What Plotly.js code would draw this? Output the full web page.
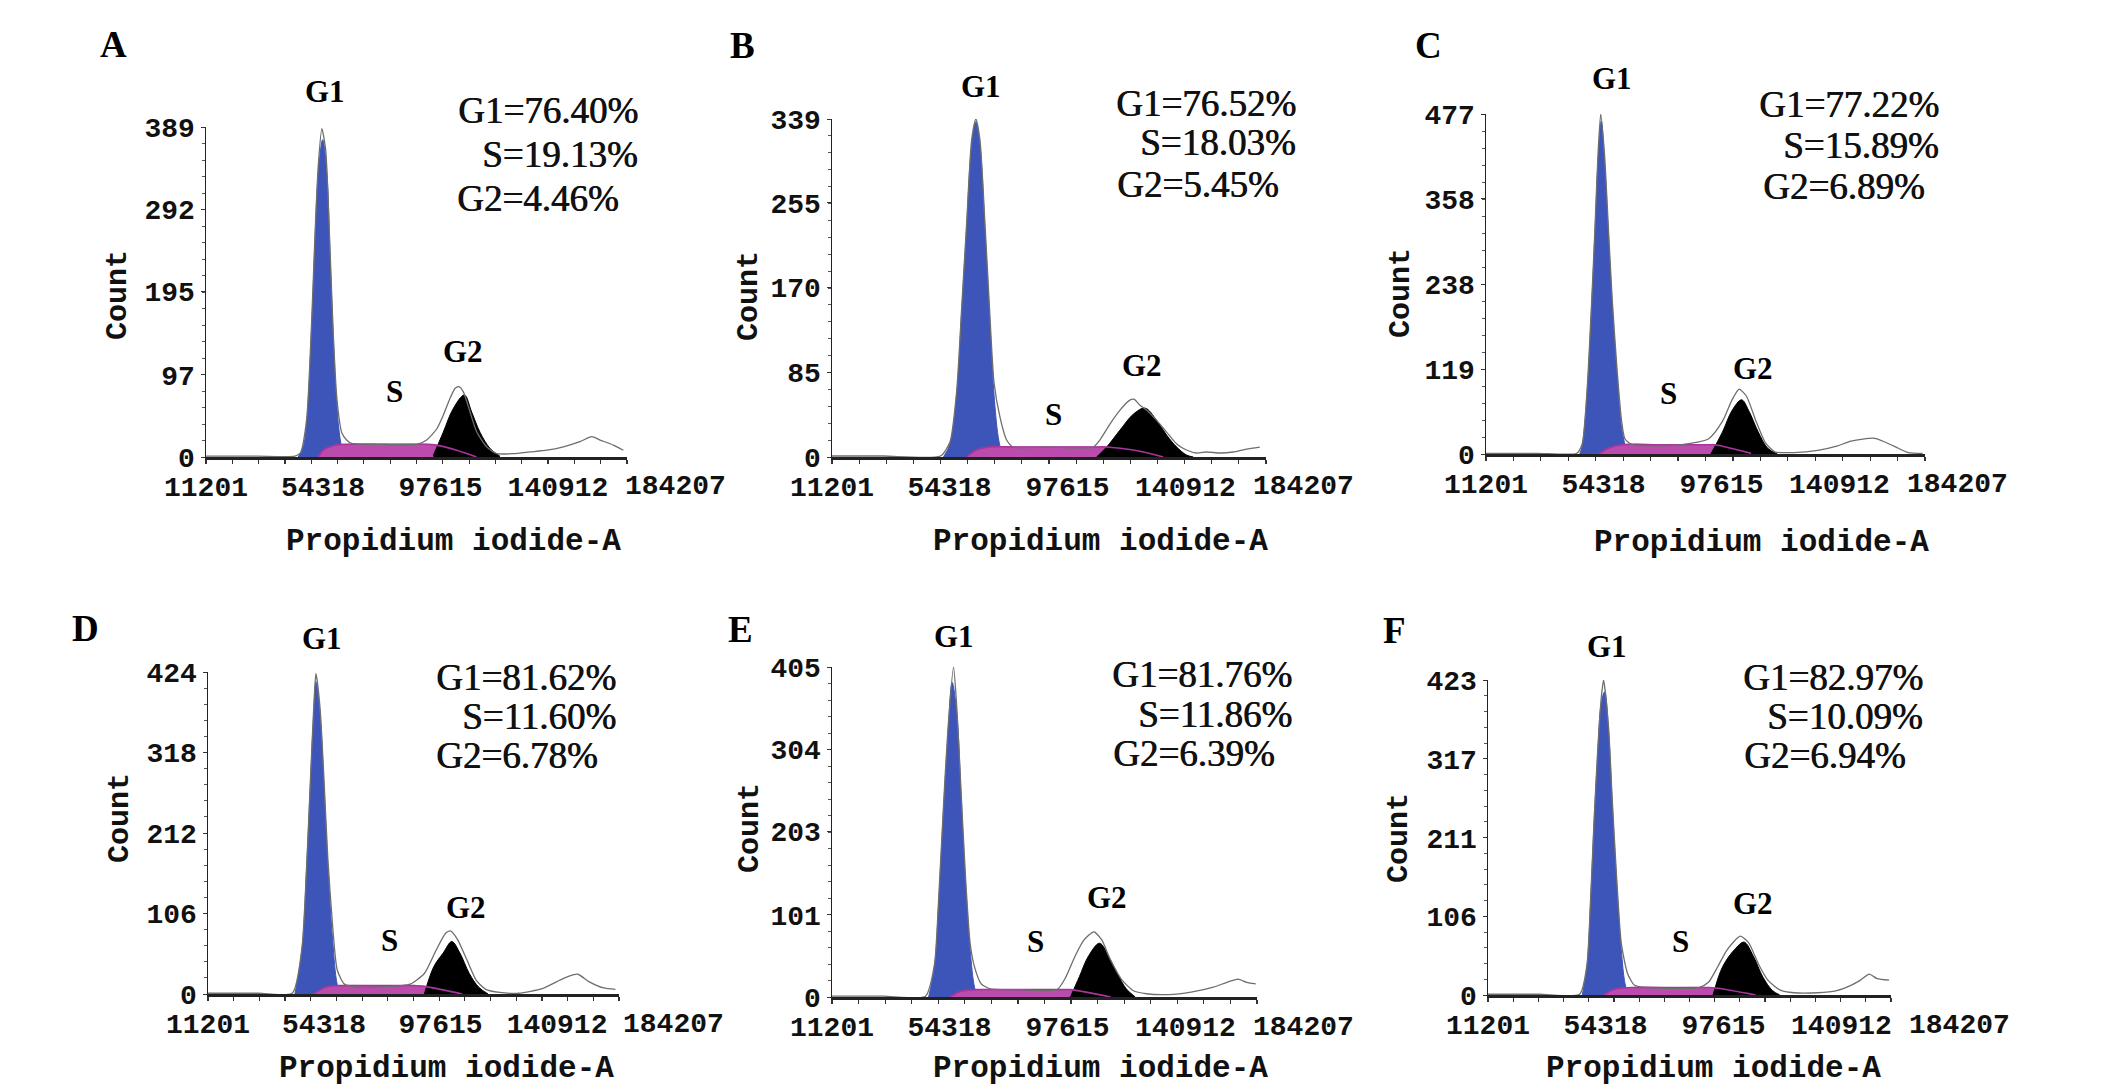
<!DOCTYPE html>
<html>
<head>
<meta charset="utf-8">
<script src="https://cdn.plot.ly/plotly-3.0.1.min.js"></script>
<style>
  body { margin: 0; background: #fff; }
  #chart { width: 2126px; height: 1092px; }
</style>
</head>
<body>
<div id="chart"></div>
<script>
// ---- data (PI-A channel vs count) ----
const panelNames = ['A', 'B', 'C', 'D', 'E', 'F'];
const g1Pct = ['76.40%', '76.52%', '77.22%', '81.62%', '81.76%', '82.97%'];
const sPct  = ['19.13%', '18.03%', '15.89%', '11.60%', '11.86%', '10.09%'];
const g2Pct = ['4.46%', '5.45%', '6.89%', '6.78%', '6.39%', '6.94%'];

const xTickVals = [11201, 54318, 97615, 140912, 184207];
const yTicksA = [0, 97, 195, 292, 389];
const yTicksB = [0, 85, 170, 255, 339];
const yTicksC = [0, 119, 238, 358, 477];
const yTicksD = [0, 106, 212, 318, 424];
const yTicksE = [0, 101, 203, 304, 405];
const yTicksF = [0, 106, 211, 317, 423];

// A
const aG1X = [45200, 47000, 48300, 50200, 51400, 52600, 54200, 55700, 56900, 58100, 59400, 60600, 61800];
const aG1Y = [0, 12, 41, 159, 258, 336, 374, 336, 238, 140, 61, 22, 2];
const aSX = [52600, 54400, 56900, 60000, 70000, 80000, 91300, 96200, 103600, 110900];
const aSY = [0, 8, 12, 14.5, 15, 15, 15, 14, 8, 0];
const aG2X = [95000, 98600, 102300, 106400, 109100, 112200, 115900, 119500];
const aG2Y = [2, 29, 57, 73, 53, 29, 10, 1];
const aTotX = [11201, 30000, 44000, 46000, 48300, 50200, 51400, 52600, 53900, 55300, 56900, 58100, 59400, 60600, 61200, 63000, 64900, 75000, 89000, 92500, 96200, 98600, 101100, 103000, 104400, 106000, 108500, 110900, 114600, 118300, 124400, 130600, 136800, 142900, 149000, 153300, 156400, 161300, 165000];
const aTotY = [1, 1, 1, 5, 45, 165, 265, 345, 387, 362, 245, 145, 70, 38, 29, 20, 16, 15, 15, 20, 33, 49, 69, 81, 83, 77, 53, 30, 12, 4, 4, 6, 8, 12, 18, 24, 20, 14, 8];

// B
const bG1X = [52100, 54500, 56950, 58800, 60600, 62450, 64000, 65500, 67300, 68900, 70650, 72200, 73500];
const bG1Y = [0, 13, 63, 147, 230, 313, 336, 313, 230, 147, 63, 20, 3];
const bSX = [60600, 64300, 69200, 80000, 95000, 107100, 112000, 121800, 132800];
const bSY = [0, 7, 10, 10, 10, 10, 10, 7, 0];
const bG2X = [108300, 112000, 116900, 121800, 126100, 130300, 134000, 137700, 141300, 143800];
const bG2Y = [0, 10, 27, 43, 49, 37, 22, 10, 2, 0];
const bTotX = [11201, 30000, 51000, 54500, 56950, 58800, 60600, 62450, 64000, 65500, 67300, 68900, 70650, 72850, 75300, 77700, 90000, 107100, 109500, 113200, 116900, 120500, 122000, 124200, 126700, 130300, 134000, 137700, 141300, 145000, 148700, 153600, 158400, 163300, 168200];
const bTotY = [1, 1, 1, 15, 66, 150, 234, 318, 339, 318, 236, 155, 75, 40, 17, 10, 10, 10, 17, 33, 47, 57, 58, 52, 47, 37, 25, 13, 7, 4, 5, 4, 5, 8, 10];

// C
const cG1X = [45600, 46500, 48300, 50000, 51200, 52300, 53500, 54700, 56100, 57500, 59300, 61000, 62800];
const cG1Y = [0, 11, 86, 211, 311, 411, 467, 411, 311, 211, 111, 36, 3];
const cSX = [52600, 56100, 61400, 75000, 92800, 95000, 98000, 108500];
const cSY = [0, 8, 13, 13, 13, 13, 11, 1];
const cG2X = [93700, 98000, 101500, 105000, 107600, 111100, 114600, 118100];
const cG2Y = [0, 31, 61, 76, 61, 31, 8, 0];
const cTotX = [11201, 30000, 44500, 46500, 48300, 50000, 51200, 52300, 53300, 54700, 56100, 57500, 59300, 61000, 62200, 64900, 80000, 92800, 98000, 101500, 104100, 106800, 110300, 113700, 117200, 124200, 132900, 139900, 145200, 153900, 160900, 166100, 171400];
const cTotY = [1, 1, 1, 14, 90, 215, 318, 420, 477, 420, 318, 218, 118, 45, 21, 13, 12, 21, 46, 76, 91, 81, 46, 16, 3, 2, 5, 11, 18, 22, 11, 2, 1];

// D
const dG1X = [43500, 46100, 47900, 49300, 50500, 51300, 52800, 54200, 55700, 57500, 59200, 60500];
const dG1Y = [0, 58, 170, 281, 371, 411, 371, 281, 170, 72, 13, 0];
const dSX = [50500, 54900, 60100, 75000, 88200, 91600, 105700];
const dSY = [0, 9, 11, 11, 11, 10, 0];
const dG2X = [91600, 95100, 98600, 101800, 104800, 108300, 111800, 115300];
const dG2Y = [0, 36, 54, 69, 54, 27, 9, 0];
const dTotX = [11201, 30000, 42500, 46100, 47900, 49300, 50500, 51300, 52800, 54200, 55700, 57500, 59200, 61900, 67100, 82900, 86400, 91600, 96000, 99500, 101300, 103900, 107400, 110900, 114400, 119600, 126700, 135400, 140700, 144200, 148600, 152900, 158200, 162600];
const dTotY = [1, 1, 1, 60, 172, 285, 378, 422, 378, 290, 180, 90, 32, 13, 9, 11, 13, 27, 58, 80, 83, 72, 45, 18, 6, 2, 1, 7, 16, 22, 26, 16, 8, 6];

// E
const eG1X = [46650, 48800, 50400, 52050, 53700, 55300, 57000, 58600, 60200, 61900, 63500, 64700];
const eG1Y = [0, 37, 120, 225, 320, 386, 349, 245, 141, 58, 12, 0];
const eSX = [54500, 58600, 64300, 80000, 95500, 98700, 113500];
const eSY = [0, 7, 9, 9, 9, 9, 0];
const eG2X = [98700, 102000, 105300, 109400, 112700, 115900, 119200, 122500];
const eG2Y = [0, 25, 50, 66, 50, 29, 10, 0];
const eTotX = [11201, 30000, 45500, 48800, 50400, 52050, 53700, 55800, 57000, 58600, 60200, 61900, 63500, 66000, 69300, 80000, 93800, 97100, 100400, 103700, 107300, 110200, 113500, 117600, 121700, 126600, 134800, 143000, 151200, 156100, 160200, 163400, 166700];
const eTotY = [1, 1, 1, 40, 124, 230, 326, 405, 355, 250, 147, 66, 37, 16, 10, 9, 9, 25, 50, 70, 80, 70, 45, 21, 8, 4, 3, 6, 12, 18, 22, 18, 16];

// F
const fG1X = [45800, 47500, 48900, 50100, 51400, 52800, 54000, 55400, 56800, 58400, 60100, 61500, 62700];
const fG1Y = [0, 38, 129, 229, 320, 393, 407, 357, 257, 152, 61, 15, 0];
const fSX = [53600, 58000, 64100, 80000, 92100, 95500, 109500];
const fSY = [0, 8, 10, 10, 10, 9, 0];
const fG2X = [93800, 97300, 101700, 105200, 108600, 112100, 115600, 118300];
const fG2Y = [0, 38, 61, 71, 52, 24, 6, 0];
const fTotX = [11201, 30000, 44800, 47500, 48900, 50100, 51400, 52800, 53600, 55400, 56800, 58400, 60100, 62400, 65000, 69300, 88600, 92100, 95500, 99000, 103800, 106900, 110400, 113900, 118300, 123500, 132200, 139200, 144400, 147900, 151100, 154000, 158400];
const fTotY = [1, 1, 1, 40, 132, 232, 325, 400, 423, 362, 262, 158, 70, 29, 13, 10, 10, 17, 38, 61, 79, 70, 42, 20, 7, 3, 3, 6, 13, 20, 28, 22, 20];

const series = [
  { g1: [aG1X, aG1Y], s: [aSX, aSY], g2: [aG2X, aG2Y], tot: [aTotX, aTotY], yt: yTicksA },
  { g1: [bG1X, bG1Y], s: [bSX, bSY], g2: [bG2X, bG2Y], tot: [bTotX, bTotY], yt: yTicksB },
  { g1: [cG1X, cG1Y], s: [cSX, cSY], g2: [cG2X, cG2Y], tot: [cTotX, cTotY], yt: yTicksC },
  { g1: [dG1X, dG1Y], s: [dSX, dSY], g2: [dG2X, dG2Y], tot: [dTotX, dTotY], yt: yTicksD },
  { g1: [eG1X, eG1Y], s: [eSX, eSY], g2: [eG2X, eG2Y], tot: [eTotX, eTotY], yt: yTicksE },
  { g1: [fG1X, fG1Y], s: [fSX, fSY], g2: [fG2X, fG2Y], tot: [fTotX, fTotY], yt: yTicksF },
];

// ---- layout (pixel boxes of each plot area and label spots) ----
const W = 2126, H = 1092;
const boxes = [
  { l: 206, r: 627, t: 127, b: 457, xMax: 166340, tag: [113, 45], g1: [325, 91], g2: [463, 352], s: [394, 391], statR: 640, statL: 455, statY: [111, 155, 198], count: [118, 295], title: [453, 541] },
  { l: 832, r: 1266, t: 119, b: 457, xMax: 170480, tag: [742, 46], g1: [981, 87], g2: [1142, 366], s: [1053, 414], statR: 1298, statL: 1115, statY: [103, 143, 184], count: [749, 296], title: [1100, 541] },
  { l: 1486, r: 1925, t: 114, b: 454, xMax: 172310, tag: [1428, 46], g1: [1612, 79], g2: [1753, 368], s: [1668, 393], statR: 1941, statL: 1761, statY: [104, 146, 186], count: [1401, 293], title: [1761, 542] },
  { l: 208, r: 619, t: 672, b: 994, xMax: 163930, tag: [85, 628], g1: [322, 638], g2: [466, 907], s: [389, 940], statR: 618, statL: 434, statY: [677, 716, 755], count: [120, 818], title: [446, 1068] },
  { l: 832, r: 1257, t: 667, b: 997, xMax: 167180, tag: [740, 629], g1: [954, 636], g2: [1107, 897], s: [1035, 941], statR: 1294, statL: 1111, statY: [674, 714, 753], count: [750, 828], title: [1100, 1068] },
  { l: 1488, r: 1891, t: 680, b: 995, xMax: 159100, tag: [1394, 630], g1: [1607, 646], g2: [1753, 904], s: [1680, 941], statR: 1925, statL: 1742, statY: [677, 716, 755], count: [1399, 838], title: [1713, 1068] },
];

const BLUE = '#3d55b8', PINK = '#bb4cae', PINK_LINE = '#a8359c', OUTLINE = '#6e6e6e';
const MONO = 'Liberation Mono, DejaVu Sans Mono, monospace';
const SERIF = 'Liberation Serif, DejaVu Serif, serif';

const px = p => p / W;
const py = p => 1 - p / H;

const traces = [];
const layout = {
  width: W, height: H,
  margin: { l: 0, r: 0, t: 0, b: 0 },
  paper_bgcolor: '#fff', plot_bgcolor: 'rgba(0,0,0,0)',
  showlegend: false,
  annotations: [],
};

function note(text, x, y, opts) {
  layout.annotations.push(Object.assign({
    text: text, x: px(x), y: py(y), xref: 'paper', yref: 'paper',
    showarrow: false, xanchor: 'center', yanchor: 'middle',
  }, opts));
}

series.forEach((d, i) => {
  const b = boxes[i];
  const n = i === 0 ? '' : String(i + 1);
  const xa = 'x' + n, ya = 'y' + n;
  const common = { type: 'scatter', mode: 'lines', xaxis: xa, yaxis: ya, hoverinfo: 'skip' };

  traces.push(Object.assign({ x: d.g1[0], y: d.g1[1], fill: 'tozeroy', fillcolor: BLUE,
    line: { shape: 'spline', color: BLUE, width: 1 } }, common));
  traces.push(Object.assign({ x: d.s[0], y: d.s[1], fill: 'tozeroy', fillcolor: PINK,
    line: { shape: 'spline', color: PINK, width: 1 } }, common));
  traces.push(Object.assign({ x: d.g2[0], y: d.g2[1], fill: 'tozeroy', fillcolor: '#000',
    line: { shape: 'spline', color: '#000', width: 1 } }, common));
  traces.push(Object.assign({ x: d.s[0], y: d.s[1],
    line: { shape: 'spline', color: PINK_LINE, width: 1.6 } }, common));
  traces.push(Object.assign({ x: d.tot[0], y: d.tot[1],
    line: { shape: 'spline', smoothing: 0.6, color: OUTLINE, width: 1.3 } }, common));

  const tickFont = { family: MONO, size: 28, color: '#111', weight: 'bold' };
  const yMax = d.yt[d.yt.length - 1];

  layout['xaxis' + n] = {
    domain: [px(b.l), px(b.r)], anchor: ya, range: [xTickVals[0], b.xMax],
    showline: true, linecolor: '#222', linewidth: 2.5, showgrid: false, zeroline: false,
    tickmode: 'array', tickvals: xTickVals.slice(0, 4), ticktext: xTickVals.slice(0, 4).map(String),
    ticks: '', tickfont: tickFont, ticklabelstandoff: 3,
    minor: { tickmode: 'linear', tick0: xTickVals[0], dtick: (b.xMax - xTickVals[0]) / 16,
      ticks: 'outside', ticklen: 4, tickcolor: '#333', tickwidth: 1.2, showgrid: false },
  };
  layout['yaxis' + n] = {
    domain: [py(b.b), py(b.t)], anchor: xa, range: [0, yMax],
    showline: true, linecolor: '#222', linewidth: 1.5, showgrid: false, zeroline: false,
    tickmode: 'array', tickvals: d.yt, ticktext: d.yt.map(String),
    ticks: 'outside', ticklen: 4, tickcolor: '#333', tickfont: tickFont, ticklabelstandoff: 0,
    minor: { tickmode: 'linear', tick0: 0, dtick: yMax / 20, ticks: 'outside', ticklen: 3,
      tickcolor: '#555', showgrid: false },
  };

  // last x tick label sits past the end of the drawn axis
  layout.annotations.push({
    text: String(xTickVals[4]), xref: xa + ' domain', yref: 'paper',
    x: (xTickVals[4] - xTickVals[0]) / (b.xMax - xTickVals[0]), y: py(b.b + 30),
    showarrow: false, xanchor: 'center', yanchor: 'middle', font: tickFont,
  });

  note('<b>' + panelNames[i] + '</b>', b.tag[0], b.tag[1], { font: { family: SERIF, size: 37, color: '#000' } });
  note('<b>G1</b>', b.g1[0], b.g1[1], { font: { family: SERIF, size: 31, color: '#000' } });
  note('<b>G2</b>', b.g2[0], b.g2[1], { font: { family: SERIF, size: 31, color: '#000' } });
  note('<b>S</b>', b.s[0], b.s[1], { font: { family: SERIF, size: 31, color: '#000' } });

  const statFont = { family: SERIF, size: 37, color: '#111', shadow: '0.7px 0 0 #111' };
  note('G1=' + g1Pct[i], b.statR, b.statY[0], { xanchor: 'right', font: statFont });
  note('S=' + sPct[i], b.statR, b.statY[1], { xanchor: 'right', font: statFont });
  note('G2=' + g2Pct[i], b.statL, b.statY[2], { xanchor: 'left', font: statFont });

  note('Count', b.count[0], b.count[1], { textangle: -90, font: { family: MONO, size: 30, color: '#111', weight: 'bold' } });
  note('Propidium iodide-A', b.title[0], b.title[1], { font: { family: MONO, size: 31, color: '#111', weight: 'bold' } });
});

Plotly.newPlot('chart', traces, layout, { staticPlot: true, displayModeBar: false });
</script>
</body>
</html>
